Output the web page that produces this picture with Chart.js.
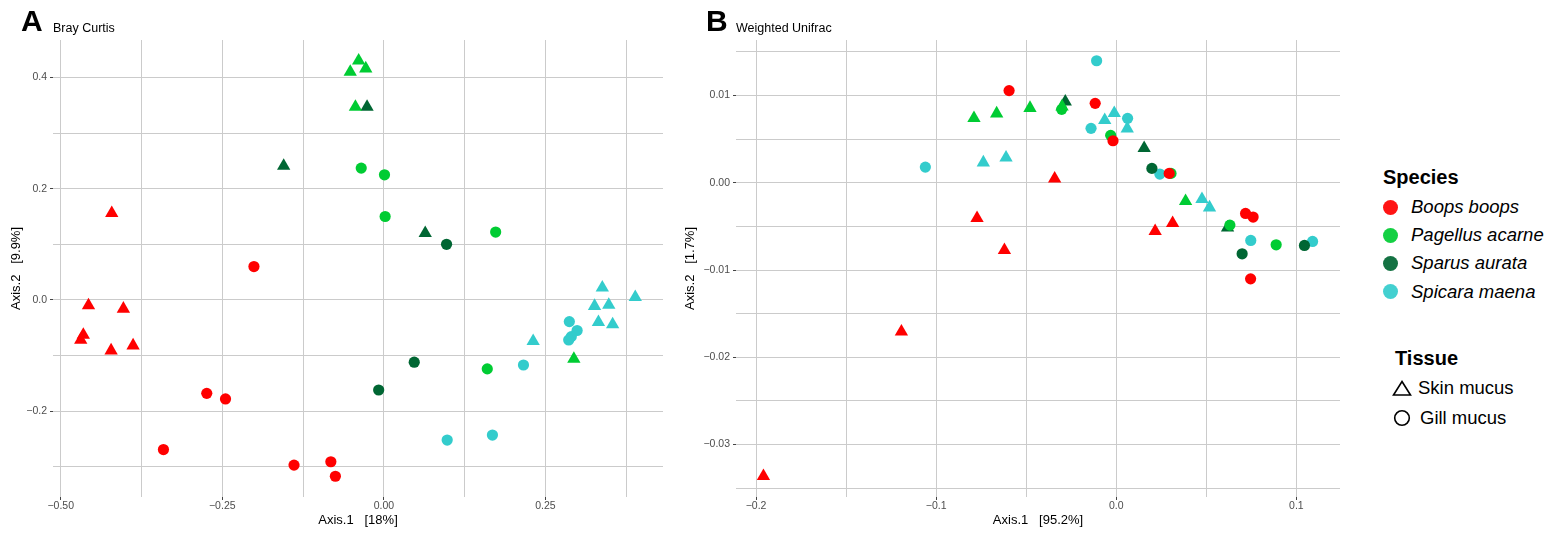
<!DOCTYPE html>
<html>
<head>
<meta charset="utf-8">
<script src="https://cdn.jsdelivr.net/npm/chart.js@4.4.1/dist/chart.umd.min.js"></script>
<style>
  body { margin: 0; background: #fff; font-family: "Liberation Sans", Arial, sans-serif; }
  #page { position: relative; width: 1548px; height: 533px; overflow: hidden; }
  canvas { position: absolute; top: 0; }
  .tag { position: absolute; font-weight: bold; font-size: 30px; line-height: 30px; }
  .sub { position: absolute; font-size: 12.5px; line-height: 12.5px; }
  .lg-head { position: absolute; font-weight: bold; font-size: 20px; line-height: 20px; }
  .lg-row { position: absolute; height: 28px; display: flex; align-items: center; font-size: 18.5px; white-space: nowrap; }
  .lg-row i { font-style: italic; }
  .dot { width: 15px; height: 15px; border-radius: 50%; margin-right: 13px; opacity: 0.92; }
</style>
</head>
<body>
<div id="page">
  <canvas id="chartA" width="680" height="533" style="left:0"></canvas>
  <canvas id="chartB" width="680" height="533" style="left:680px"></canvas>

  <div class="tag" style="left:21px;top:6px">A</div>
  <div class="sub" style="left:53px;top:22px">Bray Curtis</div>
  <div class="tag" style="left:706px;top:6px">B</div>
  <div class="sub" style="left:736px;top:22px">Weighted Unifrac</div>

  <div id="legend"></div>
</div>

<script>
// Species / tissue groups
const speciesNames = ['Boops boops', 'Pagellus acarne', 'Sparus aurata', 'Spicara maena'];
const speciesColors = ['#ff0000', '#00cc33', '#006633', '#33cccc'];
const tissueNames = ['Skin mucus', 'Gill mucus'];

// Panel A - Bray Curtis  [Axis.1, Axis.2]
const bcBoopsSkin = [[-0.421, 0.156], [-0.457, -0.010], [-0.403, -0.016], [-0.465, -0.063], [-0.469, -0.072], [-0.422, -0.091], [-0.388, -0.082]];
const bcBoopsGill = [[-0.201, 0.060], [-0.274, -0.168], [-0.245, -0.178], [-0.341, -0.269], [-0.139, -0.297], [-0.082, -0.291], [-0.075, -0.317]];
const bcPagellusSkin = [[-0.039, 0.430], [-0.052, 0.410], [-0.028, 0.416], [-0.044, 0.347], [0.294, -0.106]];
const bcPagellusGill = [[-0.035, 0.237], [0.001, 0.225], [0.002, 0.150], [0.173, 0.122], [0.160, -0.124]];
const bcSparusSkin = [[-0.026, 0.347], [-0.155, 0.241], [0.064, 0.120]];
const bcSparusGill = [[0.097, 0.100], [0.047, -0.112], [-0.008, -0.162]];
const bcSpicaraSkin = [[0.231, -0.074], [0.338, 0.022], [0.326, -0.011], [0.348, -0.009], [0.332, -0.040], [0.354, -0.044], [0.389, 0.005]];
const bcSpicaraGill = [[0.216, -0.117], [0.098, -0.252], [0.168, -0.243], [0.287, -0.039], [0.299, -0.055], [0.290, -0.066], [0.286, -0.072]];

// Panel B - Weighted Unifrac
const wuBoopsSkin = [[-0.0773, -0.00405], [-0.0621, -0.00772], [-0.1193, -0.01706], [-0.1959, -0.03364], [-0.0342, 0.00048], [0.0216, -0.00554], [0.0313, -0.00462]];
const wuBoopsGill = [[-0.0595, 0.01057], [-0.0117, 0.00911], [-0.0018, 0.00482], [0.0294, 0.00108], [0.0718, -0.00351], [0.0760, -0.00393], [0.0746, -0.01101]];
const wuPagellusSkin = [[-0.0790, 0.00742], [-0.0664, 0.00794], [-0.0479, 0.00857], [-0.0301, 0.00874], [0.0385, -0.00210]];
const wuPagellusGill = [[-0.0303, 0.00842], [-0.0031, 0.00544], [0.0304, 0.00108], [0.0631, -0.00485], [0.0888, -0.00711]];
const wuSparusSkin = [[-0.0283, 0.00931], [0.0155, 0.00398], [0.0618, -0.00514]];
const wuSparusGill = [[0.0198, 0.00165], [0.0699, -0.00814], [0.1045, -0.00718]];
const wuSpicaraSkin = [[-0.0738, 0.00232], [-0.0612, 0.00289], [-0.0064, 0.00719], [-0.0011, 0.00799], [0.0061, 0.00622], [0.0476, -0.00187], [0.0518, -0.00284]];
const wuSpicaraGill = [[-0.1060, 0.00180], [-0.0109, 0.01399], [-0.0140, 0.00624], [0.0063, 0.00739], [0.0242, 0.00100], [0.0747, -0.00661], [0.1090, -0.00672]];

// Tick values and labels
const bcXTicks = [-0.5, -0.25, 0, 0.25];
const bcXLabels = ['\u22120.50', '\u22120.25', '0.00', '0.25'];
const bcXMinor = [-0.375, -0.125, 0.125, 0.375];
const bcYTicks = [-0.2, 0, 0.2, 0.4];
const bcYLabels = ['\u22120.2', '0.0', '0.2', '0.4'];
const bcYMinor = [-0.3, -0.1, 0.1, 0.3];

const wuXTicks = [-0.2, -0.1, 0, 0.1];
const wuXLabels = ['\u22120.2', '\u22120.1', '0.0', '0.1'];
const wuXMinor = [-0.15, -0.05, 0.05];
const wuYTicks = [-0.03, -0.02, -0.01, 0, 0.01];
const wuYLabels = ['\u22120.03', '\u22120.02', '\u22120.01', '0.00', '0.01'];
const wuYMinor = [-0.035, -0.025, -0.015, -0.005, 0.005, 0.015];

const FONT = '"Liberation Sans", Arial, sans-serif';

// ggplot style 5% expansion of the data range
function span(groups, i) {
    const v = groups.flat().map(p => p[i]);
    const lo = Math.min(...v), hi = Math.max(...v);
    const pad = (hi - lo) * 0.05;
    return [lo - pad, hi + pad];
}

function makeScale(cfg) {
    const all = cfg.major.concat(cfg.minor).sort((a, b) => a - b);
    const isMajor = v => cfg.major.some(m => Math.abs(m - v) < 1e-9);
    return {
        type: 'linear',
        position: cfg.position,
        min: cfg.range[0],
        max: cfg.range[1],
        afterBuildTicks: scale => { scale.ticks = all.map(v => ({ value: v })); },
        afterFit: scale => {
            if (cfg.position === 'left') scale.width = cfg.box;
            else scale.height = cfg.box;
        },
        border: { display: false },
        grid: {
            color: '#cbcbcb',
            lineWidth: 1,
            drawTicks: true,
            tickLength: 3,
            tickColor: ctx => isMajor(ctx.tick.value) ? '#444' : 'rgba(0,0,0,0)'
        },
        ticks: {
            autoSkip: false,
            maxRotation: 0,
            padding: cfg.position === 'left' ? 3 : 0,
            color: '#4d4d4d',
            font: { family: FONT, size: 10.5 },
            callback: value => {
                const k = cfg.major.findIndex(m => Math.abs(m - value) < 1e-9);
                return k >= 0 ? cfg.labels[k] : '';
            }
        },
        title: {
            display: true,
            text: cfg.title,
            color: '#000',
            font: { family: FONT, size: 13 },
            padding: cfg.titlePad
        }
    };
}

function makeDatasets(groups) {
    const list = [];
    groups.forEach((pair, s) => {
        pair.forEach((pts, t) => {
            list.push({
                label: speciesNames[s] + ' - ' + tissueNames[t],
                data: pts.map(([x, y]) => ({ x, y })),
                pointStyle: t === 0 ? 'triangle' : 'circle',
                pointRadius: t === 0 ? 7.7 : 5.6,
                pointHoverRadius: t === 0 ? 7.7 : 5.6,
                pointBorderWidth: 0,
                backgroundColor: speciesColors[s],
                borderColor: speciesColors[s]
            });
        });
    });
    return list;
}

function renderPanel(id, groups, xs, ys, padRight) {
    const flat = groups.flat();
    new Chart(document.getElementById(id), {
        type: 'scatter',
        data: { datasets: makeDatasets(groups) },
        options: {
            responsive: false,
            animation: false,
            layout: { padding: { top: 40, right: padRight, bottom: 0, left: 0 } },
            plugins: { legend: { display: false }, tooltip: { enabled: false } },
            scales: {
                x: makeScale(Object.assign({ position: 'bottom', range: span(flat, 0), box: 36, titlePad: { top: 0, bottom: 5 } }, xs)),
                y: makeScale(Object.assign({ position: 'left', range: span(flat, 1), titlePad: { top: 9, bottom: 0 } }, ys))
            }
        }
    });
}

renderPanel('chartA', [
    [bcBoopsSkin, bcBoopsGill], [bcPagellusSkin, bcPagellusGill],
    [bcSparusSkin, bcSparusGill], [bcSpicaraSkin, bcSpicaraGill]
], { major: bcXTicks, labels: bcXLabels, minor: bcXMinor, title: 'Axis.1   [18%]' },
   { major: bcYTicks, labels: bcYLabels, minor: bcYMinor, title: 'Axis.2   [9.9%]', box: 53 }, 17);

renderPanel('chartB', [
    [wuBoopsSkin, wuBoopsGill], [wuPagellusSkin, wuPagellusGill],
    [wuSparusSkin, wuSparusGill], [wuSpicaraSkin, wuSpicaraGill]
], { major: wuXTicks, labels: wuXLabels, minor: wuXMinor, title: 'Axis.1   [95.2%]' },
   { major: wuYTicks, labels: wuYLabels, minor: wuYMinor, title: 'Axis.2   [1.7%]', box: 56, titlePad: { top: 3, bottom: 0 } }, 20);

// Legend
const legend = document.getElementById('legend');
let html = '<div class="lg-head" style="left:1383px;top:167px">Species</div>';
speciesNames.forEach((name, i) => {
    html += `<div class="lg-row" style="left:1383px;top:${193 + i * 28.2}px">
        <span class="dot" style="background:${speciesColors[i]}"></span><i>${name}</i></div>`;
});
html += '<div class="lg-head" style="left:1395px;top:348px">Tissue</div>';
html += `<div class="lg-row" style="left:1392px;top:374px">
    <svg width="20" height="18" style="margin-right:6px"><polygon points="10,2.5 18.5,16 1.5,16" fill="none" stroke="#000" stroke-width="1.6"/></svg>${tissueNames[0]}</div>`;
html += `<div class="lg-row" style="left:1392px;top:404px">
    <svg width="20" height="18" style="margin-right:8px"><circle cx="10" cy="9" r="7.3" fill="none" stroke="#000" stroke-width="1.6"/></svg>${tissueNames[1]}</div>`;
legend.innerHTML = html;
</script>
</body>
</html>
